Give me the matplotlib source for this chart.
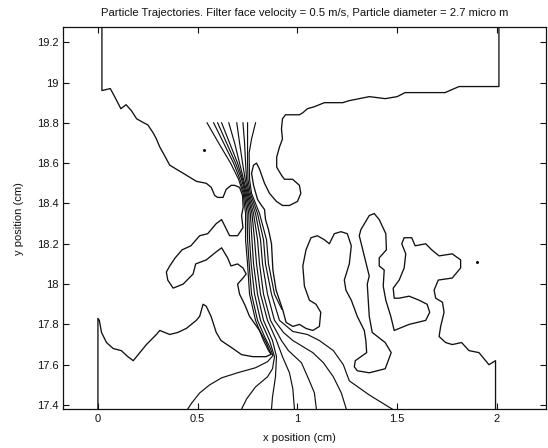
import matplotlib
matplotlib.use("Agg")
import matplotlib.pyplot as plt
import numpy as np

plt.rcParams["font.family"] = ["Liberation Sans", "DejaVu Sans"]

# ── Data (cm) ─────────────────────────────────────────────────────────────────
# left fibre / wall outline, from top of left wall down to bottom of left wall
LEFT_X = [0.02, 0.02, 0.062, 0.089, 0.115, 0.141, 0.168, 0.194, 0.23, 0.25, 0.277,
          0.293, 0.31, 0.327, 0.36, 0.393, 0.427, 0.46, 0.493, 0.543, 0.568, 0.585,
          0.60, 0.627, 0.643, 0.668, 0.685, 0.71, 0.725, 0.728, 0.72, 0.727, 0.70,
          0.66, 0.62, 0.593, 0.55, 0.51, 0.466, 0.422, 0.387, 0.36, 0.343, 0.35,
          0.377, 0.427, 0.477, 0.49, 0.543, 0.593, 0.62, 0.65, 0.667, 0.70, 0.727,
          0.743, 0.727, 0.70, 0.71, 0.735, 0.76, 0.81, 0.843, 0.868, 0.843, 0.777,
          0.72, 0.677, 0.617, 0.593, 0.567, 0.543, 0.527, 0.51, 0.493, 0.443, 0.40,
          0.36, 0.31, 0.293, 0.243, 0.21, 0.177, 0.15, 0.117, 0.077, 0.043, 0.018,
          0.007, 0.0, 0.0]
LEFT_Y = [19.28, 18.96, 18.97, 18.92, 18.87, 18.89, 18.86, 18.82, 18.80, 18.79, 18.75,
          18.72, 18.68, 18.65, 18.59, 18.57, 18.55, 18.53, 18.51, 18.50, 18.48, 18.44,
          18.43, 18.43, 18.47, 18.49, 18.49, 18.48, 18.44, 18.38, 18.34, 18.28, 18.24,
          18.24, 18.32, 18.30, 18.25, 18.24, 18.19, 18.17, 18.13, 18.09, 18.06, 18.02,
          17.98, 18.00, 18.05, 18.10, 18.12, 18.16, 18.18, 18.13, 18.09, 18.10, 18.08,
          18.05, 18.03, 18.00, 17.95, 17.90, 17.84, 17.77, 17.71, 17.652, 17.64, 17.64,
          17.65, 17.68, 17.72, 17.76, 17.84, 17.89, 17.90, 17.84, 17.82, 17.78, 17.76,
          17.75, 17.77, 17.75, 17.70, 17.66, 17.62, 17.64, 17.67, 17.68, 17.71, 17.76,
          17.82, 17.83, 17.37]

# right fibre / wall outline, from top of right wall down to bottom of right wall
RIGHT_X = [2.01, 2.01, 1.91, 1.81, 1.74, 1.685, 1.54, 1.50, 1.44, 1.36, 1.26, 1.227,
           1.135, 1.085, 1.05, 1.027, 1.01, 0.94, 0.925, 0.92, 0.925, 0.91, 0.896,
           0.896, 0.92, 0.935, 0.976, 1.01, 1.017, 1.0, 0.96, 0.925, 0.895, 0.86,
           0.835, 0.81, 0.795, 0.78, 0.77, 0.78, 0.80, 0.82, 0.835, 0.84, 0.855, 0.87,
           0.877, 0.893, 0.927, 0.943, 0.977, 1.01, 1.043, 1.077, 1.11, 1.117, 1.093,
           1.06, 1.035, 1.027, 1.043, 1.068, 1.10, 1.135, 1.16, 1.185, 1.218, 1.25,
           1.27, 1.26, 1.235, 1.243, 1.27, 1.30, 1.335, 1.343, 1.347, 1.29, 1.285, 1.30,
           1.36, 1.44, 1.47, 1.44, 1.375, 1.36, 1.35, 1.36, 1.335, 1.31, 1.318, 1.36,
           1.385, 1.41, 1.443, 1.446, 1.41, 1.41, 1.435, 1.43, 1.443, 1.468, 1.485,
           1.56, 1.643, 1.663, 1.65, 1.61, 1.56, 1.51, 1.485, 1.48, 1.51, 1.535, 1.543,
           1.523, 1.535, 1.573, 1.59, 1.643, 1.673, 1.71, 1.776, 1.818, 1.818, 1.776,
           1.706, 1.685, 1.693, 1.727, 1.735, 1.718, 1.71, 1.743, 1.776, 1.823, 1.86,
           1.91, 1.943, 1.96, 1.993, 1.993]
RIGHT_Y = [19.28, 18.98, 18.98, 18.98, 18.95, 18.95, 18.95, 18.93, 18.92, 18.93, 18.91,
           18.90, 18.90, 18.88, 18.87, 18.85, 18.84, 18.84, 18.82, 18.77, 18.72, 18.68,
           18.63, 18.58, 18.54, 18.52, 18.52, 18.49, 18.45, 18.41, 18.39, 18.39, 18.41,
           18.45, 18.50, 18.57, 18.60, 18.59, 18.55, 18.49, 18.42, 18.39, 18.37, 18.32,
           18.27, 18.20, 18.07, 17.97, 17.87, 17.81, 17.79, 17.80, 17.78, 17.77, 17.79,
           17.86, 17.90, 17.92, 17.99, 18.09, 18.17, 18.23, 18.24, 18.22, 18.20, 18.25,
           18.26, 18.25, 18.19, 18.10, 18.02, 17.97, 17.92, 17.84, 17.77, 17.72, 17.66,
           17.62, 17.59, 17.57, 17.56, 17.58, 17.66, 17.71, 17.76, 17.84, 18.00, 18.04,
           18.14, 18.24, 18.27, 18.34, 18.35, 18.32, 18.25, 18.17, 18.13, 18.09, 18.07,
           17.99, 17.92, 17.84, 17.77, 17.80, 17.82, 17.86, 17.90, 17.92, 17.94, 17.93,
           17.93, 17.98, 18.02, 18.08, 18.15, 18.20, 18.23, 18.23, 18.19, 18.20, 18.17,
           18.14, 18.15, 18.12, 18.08, 18.03, 18.02, 17.97, 17.93, 17.91, 17.86, 17.79,
           17.74, 17.71, 17.70, 17.71, 17.67, 17.66, 17.62, 17.60, 17.62, 17.37]

# particle trajectories, released at y = 18.8 cm
TRAJ_X = [
    [0.547, 0.605, 0.665, 0.705, 0.728, 0.74, 0.74, 0.75, 0.76, 0.79, 0.83, 0.855, 0.868],
    [0.58, 0.63, 0.68, 0.712, 0.733, 0.748, 0.75, 0.758, 0.77, 0.80, 0.835, 0.865, 0.877,
     0.85, 0.79, 0.70, 0.62, 0.56, 0.51, 0.47, 0.45],
    [0.60, 0.645, 0.69, 0.72, 0.738, 0.756, 0.76, 0.768, 0.785, 0.815, 0.86, 0.885, 0.875,
     0.85, 0.79, 0.745, 0.72],
    [0.62, 0.66, 0.70, 0.725, 0.743, 0.764, 0.772, 0.78, 0.80, 0.83, 0.875, 0.895, 0.89,
     0.875, 0.87],
    [0.656, 0.685, 0.71, 0.73, 0.748, 0.772, 0.785, 0.795, 0.815, 0.85, 0.895, 0.925, 0.96,
     0.977, 0.985],
    [0.696, 0.71, 0.725, 0.738, 0.753, 0.78, 0.80, 0.81, 0.83, 0.865, 0.92, 0.955, 1.02,
     1.06, 1.085, 1.095],
    [0.727, 0.735, 0.74, 0.745, 0.758, 0.79, 0.815, 0.825, 0.85, 0.885, 0.93, 0.977, 1.077,
     1.13, 1.18, 1.22, 1.245],
    [0.75, 0.75, 0.75, 0.752, 0.764, 0.80, 0.83, 0.84, 0.87, 0.91, 0.977, 1.05, 1.11, 1.18,
     1.23, 1.26, 1.36, 1.475],
    [0.79, 0.77, 0.758, 0.76, 0.77, 0.81, 0.845, 0.855, 0.885, 0.922],
]
TRAJ_Y = [
    [18.80, 18.70, 18.60, 18.52, 18.45, 18.35, 18.22, 18.10, 17.95, 17.82, 17.72, 17.67, 17.652],
    [18.80, 18.70, 18.60, 18.52, 18.45, 18.35, 18.22, 18.10, 17.95, 17.82, 17.74, 17.68, 17.645,
     17.615, 17.585, 17.56, 17.535, 17.50, 17.46, 17.41, 17.38],
    [18.80, 18.70, 18.60, 18.52, 18.45, 18.35, 18.22, 18.10, 17.95, 17.82, 17.72, 17.64, 17.58,
     17.54, 17.49, 17.43, 17.38],
    [18.80, 18.70, 18.60, 18.52, 18.45, 18.35, 18.22, 18.10, 17.95, 17.82, 17.72, 17.64, 17.54,
     17.44, 17.38],
    [18.80, 18.70, 18.60, 18.52, 18.45, 18.35, 18.22, 18.10, 17.95, 17.82, 17.72, 17.64, 17.56,
     17.48, 17.38],
    [18.80, 18.70, 18.60, 18.52, 18.45, 18.35, 18.22, 18.10, 17.95, 17.82, 17.72, 17.67, 17.61,
     17.52, 17.46, 17.38],
    [18.80, 18.70, 18.60, 18.52, 18.45, 18.35, 18.22, 18.10, 17.95, 17.82, 17.76, 17.72, 17.66,
     17.61, 17.54, 17.46, 17.38],
    [18.80, 18.70, 18.60, 18.52, 18.45, 18.35, 18.22, 18.10, 17.95, 17.82, 17.765, 17.75, 17.72,
     17.67, 17.60, 17.52, 17.45, 17.38],
    [18.80, 18.72, 18.65, 18.52, 18.45, 18.35, 18.22, 18.10, 17.95, 17.875],
]

# stray deposited particles
DOT_X = [0.53, 1.90]
DOT_Y = [18.665, 18.11]

X_TICKS = [0, 0.5, 1, 1.5, 2]
X_TICKLABELS = ["0", "0.5", "1", "1.5", "2"]
Y_TICKS = [17.4, 17.6, 17.8, 18.0, 18.2, 18.4, 18.6, 18.8, 19.0, 19.2]
Y_TICKLABELS = ["17.4", "17.6", "17.8", "18", "18.2", "18.4", "18.6", "18.8", "19", "19.2"]

# ── Figure ────────────────────────────────────────────────────────────────────
fig = plt.figure(figsize=(5.48, 4.48), dpi=100, facecolor="white")
ax = fig.add_axes([0.115, 0.086, 0.881, 0.854])

ink = "#111111"
ax.plot(LEFT_X, LEFT_Y, color=ink, lw=0.95)
ax.plot(RIGHT_X, RIGHT_Y, color=ink, lw=0.95)
for tx, ty in zip(TRAJ_X, TRAJ_Y):
    ax.plot(tx, ty, color=ink, lw=0.85)
ax.plot(DOT_X, DOT_Y, ls="none", marker="o", ms=1.2, color=ink)

ax.set_xlim(-0.175, 2.245)
ax.set_ylim(17.378, 19.276)
ax.set_xticks(X_TICKS)
ax.set_xticklabels(X_TICKLABELS)
ax.set_yticks(Y_TICKS)
ax.set_yticklabels(Y_TICKLABELS)
ax.tick_params(direction="in", top=True, right=True, length=4, width=0.8,
               labelsize=8, colors=ink, pad=3)
for sp in ax.spines.values():
    sp.set_linewidth(0.9)
    sp.set_color(ink)

ax.set_xlabel("x position (cm)", fontsize=8, color=ink)
ax.xaxis.set_label_coords(0.49, -0.062)
ax.set_ylabel("y position (cm)", fontsize=8, color=ink)
ax.yaxis.set_label_coords(-0.08, 0.5)

fig.text(305 / 548, 1 - 13.5 / 448,
         "Particle Trajectories. Filter face velocity = 0.5 m/s, Particle diameter = 2.7 micro m",
         ha="center", va="center", fontsize=8.1, color=ink)

fig.savefig("out.png", dpi=100, facecolor="white")
